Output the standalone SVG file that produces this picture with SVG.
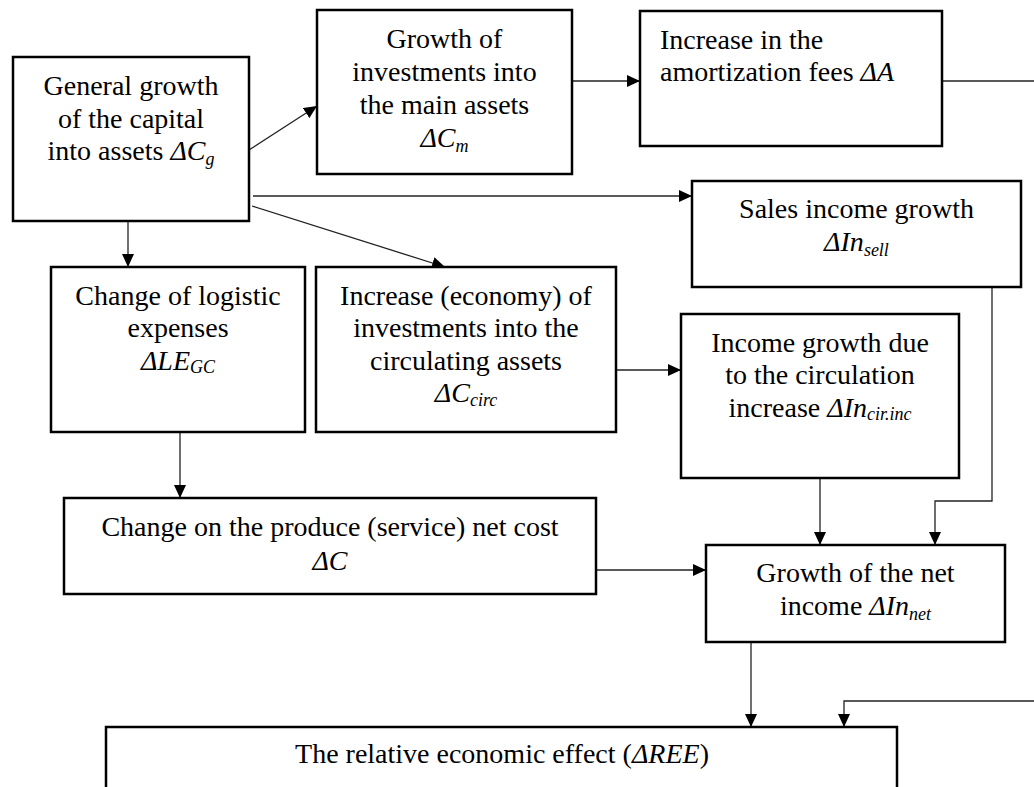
<svg xmlns="http://www.w3.org/2000/svg" width="1034" height="787" viewBox="0 0 1034 787">
<style>
.box{fill:#fff;stroke:#000;stroke-width:2.5}
text{font-family:'Liberation Serif','Times New Roman','DejaVu Serif',serif;font-size:28px;fill:#000}
.c{text-anchor:middle}
.i{font-style:italic}
.s{font-size:18px;font-style:italic}
.ln{fill:none;stroke:#222;stroke-width:1.3}
</style>
<defs>
<marker id="ah" markerUnits="userSpaceOnUse" markerWidth="14" markerHeight="12" refX="13" refY="6" orient="auto">
<path d="M0,0 L13,6 L0,12 z" fill="#000"/>
</marker>
</defs>
<rect width="1034" height="787" fill="#fff"/>
<g id="connectors">
<line class="ln" x1="249" y1="150" x2="317" y2="106" marker-end="url(#ah)"/>
<line class="ln" x1="572" y1="81" x2="640" y2="81" marker-end="url(#ah)"/>
<line class="ln" x1="942" y1="81" x2="1034" y2="81"/>
<line class="ln" x1="253" y1="196" x2="692" y2="196" marker-end="url(#ah)"/>
<line class="ln" x1="252" y1="206" x2="445" y2="267" marker-end="url(#ah)"/>
<line class="ln" x1="128" y1="221" x2="128" y2="267" marker-end="url(#ah)"/>
<line class="ln" x1="180" y1="432" x2="180" y2="498" marker-end="url(#ah)"/>
<line class="ln" x1="617" y1="370" x2="681" y2="370" marker-end="url(#ah)"/>
<line class="ln" x1="820" y1="478" x2="820" y2="545" marker-end="url(#ah)"/>
<polyline class="ln" points="992,287 992,501 935,501 935,545" marker-end="url(#ah)"/>
<line class="ln" x1="596" y1="570" x2="706" y2="570" marker-end="url(#ah)"/>
<line class="ln" x1="751" y1="642" x2="751" y2="727" marker-end="url(#ah)"/>
<polyline class="ln" points="1034,701 844,701 844,727" marker-end="url(#ah)"/>
</g>
<g id="n-general" font-family="Liberation Serif, serif">
<rect class="box" x="13" y="57" width="236" height="164"/>
<text class="c" x="131" y="95">General growth</text>
<text class="c" x="131" y="128">of the capital</text>
<text class="c" x="131" y="160">into assets <tspan class="i">ΔC</tspan><tspan class="s" dy="5">g</tspan></text>
</g>
<g id="n-main-assets">
<rect class="box" x="317" y="10" width="255" height="164"/>
<text class="c" x="444.5" y="48">Growth of</text>
<text class="c" x="444.5" y="81">investments into</text>
<text class="c" x="444.5" y="114">the main assets</text>
<text class="c" x="444.5" y="147"><tspan class="i">ΔC</tspan><tspan class="s" dy="5">m</tspan></text>
</g>
<g id="n-amortization">
<rect class="box" x="640" y="11" width="302" height="135"/>
<text x="660" y="49">Increase in the</text>
<text x="660" y="81">amortization fees <tspan class="i">ΔA</tspan></text>
</g>
<g id="n-sales">
<rect class="box" x="692" y="181" width="329" height="106"/>
<text class="c" x="856.5" y="218">Sales income growth</text>
<text class="c" x="856.5" y="251"><tspan class="i">ΔIn</tspan><tspan class="s" dy="5">sell</tspan></text>
</g>
<g id="n-logistic">
<rect class="box" x="51" y="267" width="254" height="165"/>
<text class="c" x="178" y="305">Change of logistic</text>
<text class="c" x="178" y="337">expenses</text>
<text class="c" x="178" y="370"><tspan class="i">ΔLE</tspan><tspan class="s" dy="3">GC</tspan></text>
</g>
<g id="n-circulating">
<rect class="box" x="316" y="267" width="300" height="165"/>
<text class="c" x="466" y="305">Increase (economy) of</text>
<text class="c" x="466" y="337">investments into the</text>
<text class="c" x="466" y="370">circulating assets</text>
<text class="c" x="466" y="402"><tspan class="i">ΔC</tspan><tspan class="s" dy="4">circ</tspan></text>
</g>
<g id="n-circ-income">
<rect class="box" x="681" y="314" width="278" height="164"/>
<text class="c" x="820" y="352">Income growth due</text>
<text class="c" x="820" y="384">to the circulation</text>
<text class="c" x="820" y="417">increase <tspan class="i">ΔIn</tspan><tspan class="s" dy="3">cir.inc</tspan></text>
</g>
<g id="n-net-cost">
<rect class="box" x="64" y="498" width="532" height="96"/>
<text class="c" x="330" y="536">Change on the produce (service) net cost</text>
<text class="c" x="330" y="570"><tspan class="i">ΔC</tspan></text>
</g>
<g id="n-net-income">
<rect class="box" x="706" y="545" width="299" height="97"/>
<text class="c" x="855.5" y="582">Growth of the net</text>
<text class="c" x="855.5" y="615">income <tspan class="i">ΔIn</tspan><tspan class="s" dy="5">net</tspan></text>
</g>
<g id="n-ree">
<rect class="box" x="106" y="727" width="791" height="100"/>
<text class="c" x="502" y="763">The relative economic effect (<tspan class="i">ΔREE</tspan>)</text>
</g>
</svg>
